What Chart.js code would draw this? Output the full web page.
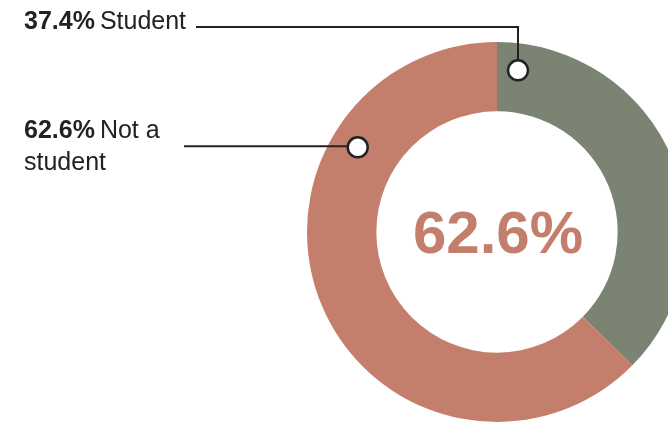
<!DOCTYPE html>
<html>
<head>
<meta charset="utf-8">
<script src="https://cdn.jsdelivr.net/npm/chart.js@4/dist/chart.umd.min.js"></script>
<style>
  html, body { margin: 0; padding: 0; background: #fff; overflow: hidden; }
  body { width: 668px; height: 428px; position: relative; }
  #chart { position: absolute; left: 0; top: 0; }
</style>
</head>
<body>
<canvas id="chart" width="700" height="428"></canvas>
<script>
const categories = ['Student', 'Not a student'];
const shares = [37.4, 62.6];
const labelLines = [['Student'], ['Not a', 'student']];
const colors = ['#7b8473', '#c47f6c'];

// leader lines and labels, drawn over the chart
const calloutPlugin = {
    id: 'callouts',
    afterDraw(chart) {
        const ctx = chart.ctx;
        const meta = chart.getDatasetMeta(0);
        const arc0 = meta.data[0];
        const cx = arc0.x, cy = arc0.y;
        const rMark = 163;

        const callouts = [
            { index: 0, angleDeg: 7.4, textX: 24, textY: 29, lineY: 27, lineStartX: 196 },
            { index: 1, angleDeg: -58.7, textX: 24, textY: 138, lineY: null, lineStartX: 184 }
        ];

        ctx.save();
        callouts.forEach(c => {
            const a = (c.angleDeg - 90) * Math.PI / 180;
            const mx = cx + rMark * Math.cos(a);
            const my = cy + rMark * Math.sin(a);

            ctx.strokeStyle = '#222';
            ctx.lineWidth = 2;
            ctx.beginPath();
            if (c.lineY !== null) {
                ctx.moveTo(c.lineStartX, c.lineY);
                ctx.lineTo(mx, c.lineY);
                ctx.lineTo(mx, my);
            } else {
                ctx.moveTo(c.lineStartX, my - 1);
                ctx.lineTo(mx, my - 1);
            }
            ctx.stroke();

            ctx.beginPath();
            ctx.arc(mx, my, 10, 0, Math.PI * 2);
            ctx.fillStyle = '#fff';
            ctx.fill();
            ctx.lineWidth = 2.5;
            ctx.stroke();

            // label text
            const value = shares[c.index].toFixed(1) + '%';
            ctx.fillStyle = '#222';
            ctx.textBaseline = 'alphabetic';
            ctx.textAlign = 'left';
            ctx.font = 'bold 25px "Liberation Sans", Arial, sans-serif';
            ctx.fillText(value, c.textX, c.textY);
            const w = ctx.measureText(value).width;
            ctx.font = '25px "Liberation Sans", Arial, sans-serif';
            const lines = labelLines[c.index];
            ctx.fillText(lines[0], c.textX + w + 5, c.textY);
            for (let i = 1; i < lines.length; i++) {
                ctx.fillText(lines[i], c.textX, c.textY + 32 * i);
            }
        });

        // center value
        ctx.fillStyle = colors[1];
        ctx.font = 'bold 60px "Liberation Sans", Arial, sans-serif';
        ctx.textAlign = 'center';
        ctx.textBaseline = 'alphabetic';
        ctx.fillText(shares[1].toFixed(1) + '%', cx + 1, cy + 21);
        ctx.restore();
    }
};

new Chart(document.getElementById('chart').getContext('2d'), {
    type: 'doughnut',
    data: {
        labels: categories,
        datasets: [{
            data: shares,
            backgroundColor: colors,
            borderWidth: 0
        }]
    },
    options: {
        responsive: false,
        animation: false,
        cutout: '63.5%',
        layout: {
            padding: { left: 307, right: 13, top: 42, bottom: 6 }
        },
        plugins: {
            legend: { display: false },
            tooltip: { enabled: false }
        }
    },
    plugins: [calloutPlugin]
});
</script>
</body>
</html>
